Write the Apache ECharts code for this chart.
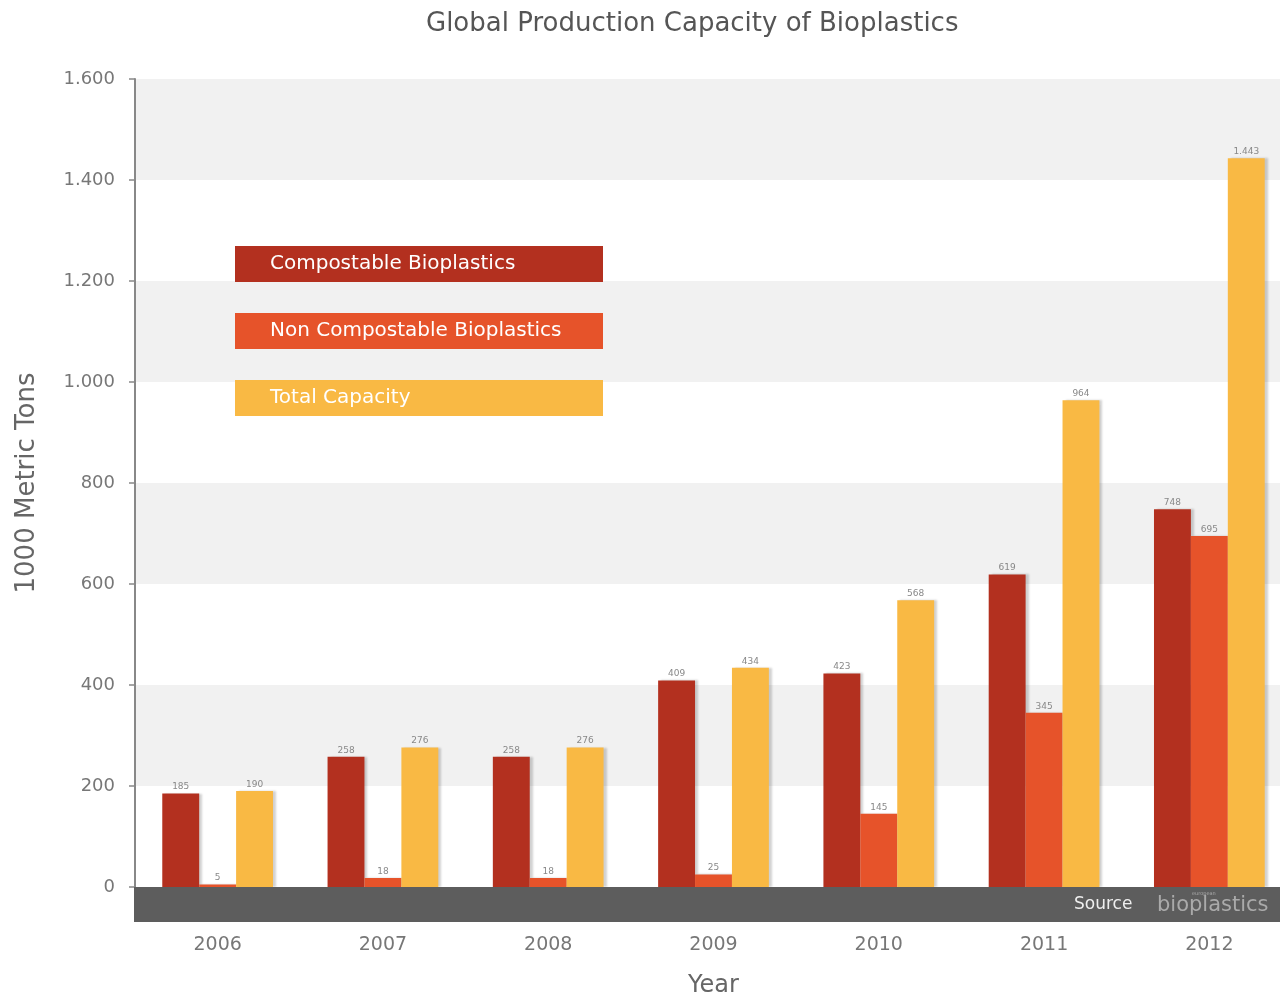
<!DOCTYPE html>
<html>
<head>
<meta charset="utf-8">
<script src="https://cdn.jsdelivr.net/npm/echarts@6/dist/echarts.min.js"></script>
<style>html,body{margin:0;padding:0;background:#fff;}#c{width:1280px;height:997px;}</style>
</head>
<body>
<div id="c"></div>
<script>
const years = ['2006','2007','2008','2009','2010','2011','2012'];
const compostable = [185, 258, 258, 409, 423, 619, 748];
const nonCompostable = [5, 18, 18, 25, 145, 345, 695];
const totalCapacity = [190, 276, 276, 434, 568, 964, 1443];
const seriesNames = ['Compostable Bioplastics', 'Non Compostable Bioplastics', 'Total Capacity'];
const seriesColors = ['#b3301f', '#e6532a', '#f9b944'];

const FONT = 'DejaVu Sans';
const fmt = v => String(v).replace(/\B(?=(\d{3})+(?!\d))/g, '.');

const chart = echarts.init(document.getElementById('c'));

function mkSeries(i, data) {
  return {
    name: seriesNames[i], type: 'bar', data: data,
    barGap: '0%', barCategoryGap: '33%',
    itemStyle: { color: seriesColors[i], shadowColor: 'rgba(0,0,0,0.18)', shadowOffsetX: 3, shadowBlur: 2 },
    label: { show: true, position: 'top', distance: 2, fontSize: 9, color: '#888', fontFamily: FONT,
             formatter: p => fmt(p.value) },
    animation: false
  };
}

const legendData = seriesNames.map((n, i) => ({
  name: n,
  textStyle: {
    backgroundColor: seriesColors[i], color: '#fff', fontSize: 20, fontFamily: FONT,
    width: 333, height: 20, lineHeight: 20, padding: [8, 0, 8, 35]
  }
}));

chart.setOption({
  animation: false,
  backgroundColor: '#fff',
  title: {
    text: 'Global Production Capacity of Bioplastics', left: 421, top: 6,
    textStyle: { fontSize: 26, fontWeight: 'normal', color: '#555', fontFamily: FONT }
  },
  legend: {
    data: legendData, orient: 'vertical', left: 225, top: 241, itemGap: 31,
    itemWidth: 0, itemHeight: 0, icon: 'rect', selectedMode: false
  },
  grid: { left: 135, right: -12, top: 79, bottom: 110, containLabel: false, outerBoundsMode: 'none' },
  xAxis: {
    type: 'category', data: years,
    name: 'Year', nameLocation: 'middle', nameGap: 87,
    nameTextStyle: { fontSize: 24, color: '#666', fontFamily: FONT },
    axisLine: { show: false }, axisTick: { show: false },
    axisLabel: { margin: 49, fontSize: 19, color: '#777', fontFamily: FONT }
  },
  yAxis: {
    type: 'value', min: 0, max: 1600, interval: 200,
    name: '1000 Metric Tons', nameLocation: 'middle', nameGap: 95,
    nameTextStyle: { fontSize: 26, color: '#666', fontFamily: FONT },
    axisLine: { show: true, lineStyle: { color: '#888', width: 2 } },
    axisTick: { show: true, length: 6, lineStyle: { color: '#888', width: 1.5 } },
    axisLabel: { margin: 20, fontSize: 18, color: '#777', fontFamily: FONT, formatter: v => fmt(v) },
    splitLine: { show: false },
    splitArea: { show: true, areaStyle: { color: ['#ffffff', '#f1f1f1'] } }
  },
  series: [mkSeries(0, compostable), mkSeries(1, nonCompostable), mkSeries(2, totalCapacity)]
});

const y0 = chart.convertToPixel({ yAxisIndex: 0 }, 0);
chart.setOption({
  graphic: [
    { type: 'rect', shape: { x: 134, y: y0, width: 1146, height: 35 }, style: { fill: '#5d5d5d' }, z: 10 },
    { type: 'text', x: 1074, y: y0 + 18, style: { text: 'Source', fill: '#eee', fontSize: 17, fontFamily: FONT, verticalAlign: 'middle' }, z: 11 },
    { type: 'text', x: 1157, y: y0 + 19, style: { text: 'bioplastics', fill: '#aaa', fontSize: 21, fontFamily: FONT, verticalAlign: 'middle' }, z: 11 },
    { type: 'text', x: 1192, y: y0 + 4, style: { text: 'european', fill: '#aaa', fontSize: 5, fontFamily: FONT }, z: 11 }
  ]
});
</script>
</body>
</html>
